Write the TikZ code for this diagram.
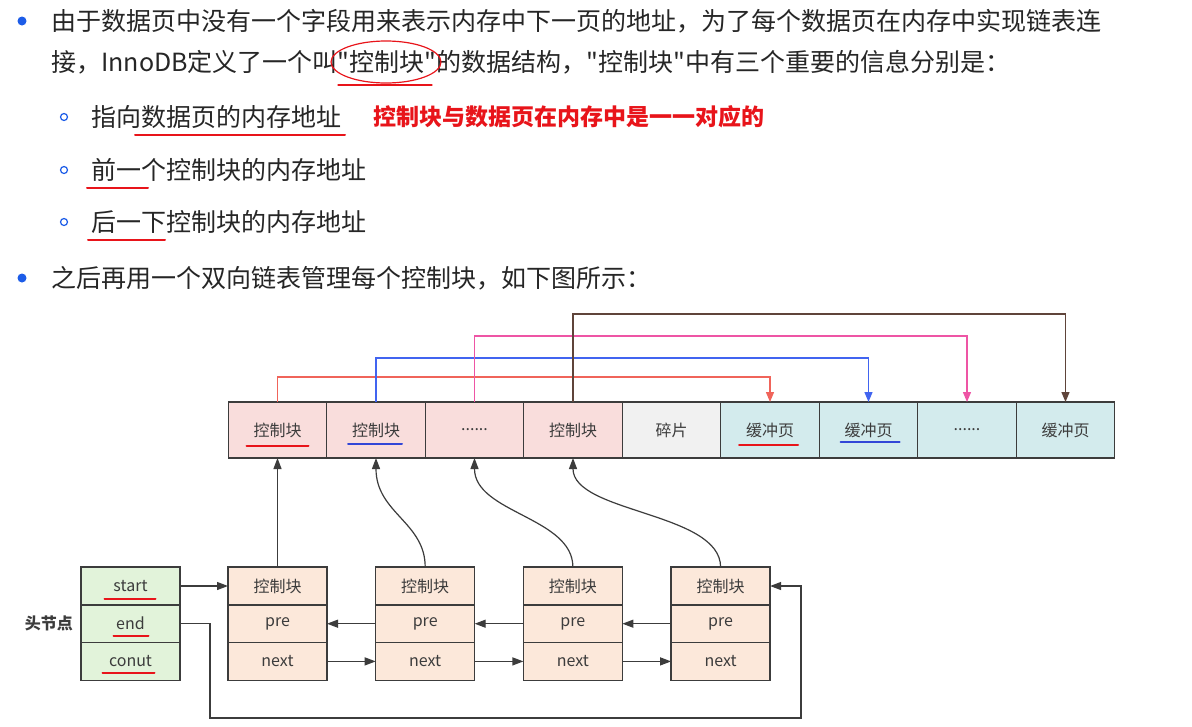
\documentclass[tikz,border=0pt]{standalone}
\usepackage{fontspec}
\setmainfont{Noto Sans CJK SC}[Ligatures=TeXOff]
\usepackage{tikz}
\usetikzlibrary{arrows.meta, positioning, calc}
\definecolor{TextDark}{RGB}{38,38,38}
\definecolor{BulletBlue}{RGB}{28,92,232}
\definecolor{MarkRed}{RGB}{232,20,26}
\definecolor{MarkBlue}{RGB}{50,70,215}
\definecolor{LineGray}{RGB}{60,60,60}
\definecolor{CtrlPink}{RGB}{249,221,220}
\definecolor{FragGray}{RGB}{241,241,241}
\definecolor{PageTeal}{RGB}{211,235,237}
\definecolor{HeadGreen}{RGB}{226,243,218}
\definecolor{CellPeach}{RGB}{252,232,218}
\definecolor{LinkRed}{RGB}{240,100,90}
\definecolor{LinkBlue}{RGB}{65,100,240}
\definecolor{LinkPink}{RGB}{238,85,165}
\definecolor{LinkBrown}{RGB}{95,68,58}

\begin{document}
\begin{tikzpicture}[
  x=1pt, y=-1pt,
  font=\fontsize{16}{19}\selectfont,
  node distance=0pt,
  textline/.style={anchor=west, inner sep=0pt, text=TextDark,
                   font=\fontsize{25}{30}\selectfont},
  block/.style={rectangle, draw=LineGray, line width=1.4pt, outer sep=0pt,
                inner sep=0pt, minimum width=98.5pt, minimum height=56pt,
                text=LineGray},
  ctrl/.style={block, fill=CtrlPink},
  frag/.style={block, fill=FragGray},
  page/.style={block, fill=PageTeal},
  cell/.style={block, fill=CellPeach, minimum width=99pt, minimum height=37.7pt},
  head/.style={cell, fill=HeadGreen},
  arrow/.style={-{Triangle[length=11pt, width=8pt]}, LineGray, line width=1.2pt},
  link/.style={-{Triangle[length=10pt, width=8pt]}, line width=1.3pt},
  uline/.style={line width=2pt, line cap=round}
]
\fill[white] (0,0) rectangle (1192,726);
\useasboundingbox (0,0) rectangle (1192,726);

% text above the diagram
\fill[BulletBlue] (22,21) circle (4.5pt);
\node[textline] (line1) at (51,21)
    {由于数据页中没有一个字段用来表示内存中下一页的地址，为了每个数据页在内存中实现链表连};
\node[textline] (line2) at (51,62)
    {接，InnoDB定义了一个叫"控制块"的数据结构，"控制块"中有三个重要的信息分别是：};
\draw[MarkRed, line width=1.2pt] (386,62) ellipse (55pt and 21pt);
\draw[uline, MarkRed, line width=1.2pt] (338,85) -- (432,85);

\draw[BulletBlue, line width=1.2pt] (64,117) circle (3.5pt);
\node[textline] (item1) at (91,117) {指向数据页的内存地址};
\node[textline, text=MarkRed, font=\bfseries\fontsize{23}{28}\selectfont]
    (note) at (373,117) {控制块与数据页在内存中是一一对应的};
\draw[uline, MarkRed] (135,135) -- (345,135);

\draw[BulletBlue, line width=1.2pt] (64,170) circle (3.5pt);
\node[textline] (item2) at (91,170) {前一个控制块的内存地址};
\draw[uline, MarkRed] (87,188) -- (148,188);

\draw[BulletBlue, line width=1.2pt] (64,222) circle (3.5pt);
\node[textline] (item3) at (91,222) {后一下控制块的内存地址};
\draw[uline, MarkRed] (88,240) -- (165,240);

\fill[BulletBlue] (22,278) circle (4.5pt);
\node[textline] (line3) at (51,278)
    {之后再用一个双向链表管理每个控制块，如下图所示：};

% memory row
\node[ctrl] (b1) at (277.5,430) {控制块};
\node[ctrl, right=of b1] (b2) {控制块};
\node[ctrl, right=of b2] (b3) {......};
\node[ctrl, right=of b3] (b4) {控制块};
\node[frag, right=of b4] (b5) {碎片};
\node[page, right=of b5] (b6) {缓冲页};
\node[page, right=of b6] (b7) {缓冲页};
\node[page, right=of b7] (b8) {......};
\node[page, right=of b8] (b9) {缓冲页};

\draw[uline, MarkRed] ($(b1)+(-31,16)$) -- ++(62,0);
\draw[uline, MarkBlue] ($(b2)+(-28,14)$) -- ++(54,0);
\draw[uline, MarkRed] ($(b6)+(-31,15)$) -- ++(59,0);
\draw[uline, MarkBlue] ($(b7)+(-28,12)$) -- ++(59,0);

\draw[link, LinkRed] (b1.north) -- ++(0,-25) -| (b6.north);
\draw[link, LinkBlue] (b2.north) -- ++(0,-44) -| (b7.north);
\draw[link, LinkPink] (b3.north) -- ++(0,-66) -| (b8.north);
\draw[link, LinkBrown] (b4.north) -- ++(0,-88) -| (b9.north);

% head node
\node[head] (hs) at (130.5,586) {start};
\node[head, below=of hs] (he) {end};
\node[head, below=of he] (hc) {conut};
\node[inner sep=0pt, text=LineGray, font=\bfseries\fontsize{16}{19}\selectfont,
      left=8pt of he] (hlabel) {头节点};
\draw[uline, MarkRed] ($(hs)+(-26,13)$) -- ++(51,0);
\draw[uline, MarkRed] ($(he)+(-17,12.5)$) -- ++(35,0);
\draw[uline, MarkRed] ($(hc)+(-28,12)$) -- ++(52,0);

% control block list
\node[cell] (c1) at (277.5,586) {控制块};
\node[cell, below=of c1] (c1p) {pre};
\node[cell, below=of c1p] (c1n) {next};
\node[cell, right=48.7pt of c1] (c2) {控制块};
\node[cell, below=of c2] (c2p) {pre};
\node[cell, below=of c2p] (c2n) {next};
\node[cell, right=48.7pt of c2] (c3) {控制块};
\node[cell, below=of c3] (c3p) {pre};
\node[cell, below=of c3p] (c3n) {next};
\node[cell, right=48.7pt of c3] (c4) {控制块};
\node[cell, below=of c4] (c4p) {pre};
\node[cell, below=of c4p] (c4n) {next};

\coordinate (loopa) at (210,718);
\coordinate (loopb) at (801,718);

\draw[arrow] (hs) -- (c1);
\draw[arrow] (he.east) -| (loopa) -- (loopb) |- (c4.east);
\draw[arrow] (c2p) -- (c1p);
\draw[arrow] (c3p) -- (c2p);
\draw[arrow] (c4p) -- (c3p);
\draw[arrow] (c1n) -- (c2n);
\draw[arrow] (c2n) -- (c3n);
\draw[arrow] (c3n) -- (c4n);

\draw[arrow] (c1.north) -- (b1.south);
\draw[arrow] (c2.north) .. controls +(0,-45) and +(0,55) .. (b2.south);
\draw[arrow] (c3.north) .. controls +(0,-50) and +(0,55) .. (b3.south);
\draw[arrow] (c4.north) .. controls +(0,-55) and +(0,55) .. (b4.south);

\end{tikzpicture}
\end{document}
